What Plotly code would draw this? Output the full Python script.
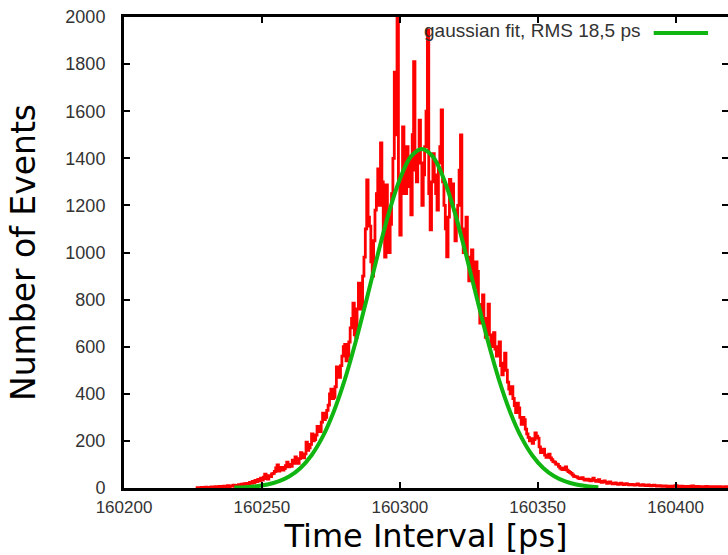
import plotly.graph_objects as go

# Histogram data: 0.5 ps bins starting at 160226 ps (each row = 5 ps)
bin_start = 160226
bin_width = 0.5
counts = [
    0, 1, 2, 0, 3, 1, 2, 4, 1, 3,
    2, 5, 3, 2, 6, 4, 3, 7, 5, 4,
    8, 5, 7, 10, 6, 9, 8, 12, 7, 11,
    9, 14, 11, 16, 12, 18, 15, 20, 17, 24,
    20, 28, 22, 32, 27, 36, 30, 42, 34, 46,
    59, 40, 38, 52, 48, 60, 62, 70, 85, 98,
    72, 80, 88, 76, 82, 95, 110, 90, 100, 92,
    118, 105, 132, 120, 105, 125, 150, 135, 128, 145,
    195, 160, 170, 185, 230, 200, 205, 225, 262, 240,
    240, 280, 318, 290, 300, 330, 352, 400, 420, 380,
    385, 430, 514, 470, 470, 520, 560, 600, 610, 540,
    560, 620, 680, 720, 785, 650, 640, 760, 870, 800,
    760, 900, 980, 1100, 1308, 1150, 1112, 960, 900, 1050,
    1180, 1250, 1355, 1200, 1465, 1300, 1060, 980, 1287, 1150,
    1000, 1120, 1250, 1400, 1766, 1500, 2040, 1300, 1074, 1250,
    1533, 1380, 1250, 1450, 1400, 1280, 1160, 1500, 1810, 1350,
    1300, 1420, 1562, 1380, 1200, 1330, 1450, 1600, 1945, 1250,
    1096, 1300, 1420, 1330, 1250, 1180, 1380, 1450, 1605, 1300,
    1200, 1100, 981, 1150, 1310, 1200, 1291, 1180, 1050, 1130,
    1200, 1350, 1499, 1100, 1000, 1080, 1150, 980, 880, 950,
    1011, 900, 850, 960, 920, 780, 700, 760, 820, 700,
    640, 720, 781, 650, 600, 630, 660, 590, 560, 600,
    620, 520, 480, 530, 573, 500, 450, 420, 400, 430,
    380, 350, 320, 360, 340, 300, 270, 300, 290, 250,
    230, 215, 200, 210, 190, 205, 234, 220, 212, 175,
    150, 160, 165, 140, 130, 138, 144, 128, 120, 112,
    110, 102, 100, 92, 85, 80, 78, 84, 90, 76,
    70, 66, 62, 56, 50, 48, 47, 43, 40, 42,
    44, 38, 34, 36, 38, 33, 30, 35, 42, 32,
    28, 31, 35, 27, 24, 28, 30, 25, 20, 23,
    26, 21, 18, 20, 22, 18, 16, 19, 21, 17,
    14, 16, 18, 15, 13, 14, 15, 13, 12, 14,
    17, 13, 11, 12, 14, 11, 10, 12, 13, 10,
    9, 11, 12, 10, 8, 9, 10, 8, 7, 9,
    9, 7, 6, 8, 8, 6, 7, 9, 10, 7,
    6, 8, 8, 6, 5, 7, 7, 5, 6, 8,
    9, 6, 5, 7, 7, 5, 6, 5, 4, 6,
    7, 5, 5, 6, 6, 4, 5, 6, 4, 5,
    6, 4, 5, 5, 6, 4, 4, 5,
]
times = [bin_start + bin_width * i for i in range(len(counts))]

# Gaussian fit curve, read every 4 ps
fit_times = [160240 + 4 * i for i in range(34)]
fit_values = [
    1.7, 3.6, 7.5, 14.7, 27.7, 49.7, 85, 139, 217, 323,
    458, 621, 803, 991, 1167, 1311, 1407, 1440, 1407, 1311,
    1167, 991, 803, 621, 458, 323, 217, 139, 85, 49.7,
    27.7, 14.7, 7.5, 3.6,
]

legend_label = "gaussian fit, RMS 18,5 ps"
x_ticks = [160200, 160250, 160300, 160350, 160400]
y_ticks = list(range(0, 2001, 200))

fig = go.Figure()
fig.add_trace(go.Scatter(
    x=times, y=counts, mode="lines", line=dict(color="#ff0000", width=2.8, shape="hv"),
    showlegend=False, hoverinfo="skip",
))
fig.add_trace(go.Scatter(
    x=fit_times, y=fit_values, mode="lines", line=dict(color="#11b511", width=4, shape="spline"),
    name=legend_label, showlegend=False,
))
# dummy trace so that the right-hand tick-only axis is drawn
fig.add_trace(go.Scatter(x=[], y=[], yaxis="y2", showlegend=False, hoverinfo="skip"))

tickfont = dict(family="Liberation Sans, Arial, sans-serif", size=18, color="#333333")
xtickfont = dict(family="Liberation Sans, Arial, sans-serif", size=17, color="#333333")

fig.update_layout(
    width=728, height=555,
    margin=dict(l=124, r=0, t=17, b=67),
    plot_bgcolor="white", paper_bgcolor="white",
    xaxis=dict(
        range=[160200, 160419], tickvals=x_ticks, ticktext=[str(v) for v in x_ticks],
        showgrid=False, zeroline=False, showline=True, linecolor="black", linewidth=3,
        mirror="ticks", ticks="inside", ticklen=6, tickwidth=2, tickcolor="black",
        tickfont=xtickfont, ticklabelstandoff=2,
        title=dict(text="Time Interval [ps]",
                   font=dict(family="DejaVu Sans, sans-serif", size=32, color="#000000"),
                   standoff=7),
    ),
    yaxis=dict(
        range=[0, 2000], tickvals=y_ticks,
        showgrid=False, zeroline=False, showline=True, linecolor="black", linewidth=3,
        ticks="inside", ticklen=6, tickwidth=2, tickcolor="black",
        tickfont=tickfont, ticklabelstandoff=12,
        title=dict(text="Number of Events",
                   font=dict(family="DejaVu Sans, sans-serif", size=33, color="#000000"),
                   standoff=20),
    ),
    yaxis2=dict(
        overlaying="y", side="right", matches="y", range=[0, 2000], tickvals=y_ticks,
        showgrid=False, zeroline=False, showline=False, showticklabels=False,
        ticks="inside", ticklen=6, tickwidth=2, tickcolor="black",
    ),
)

# legend drawn gnuplot-style: text on the left, line sample on the right
fig.add_annotation(
    x=0.86, y=0.971, xref="paper", yref="paper", xanchor="right", yanchor="middle",
    text=legend_label, showarrow=False,
    font=dict(family="Liberation Sans, Arial, sans-serif", size=19, color="#333333"),
)
fig.add_shape(
    type="line", xref="paper", yref="paper", x0=0.877, x1=0.967, y0=0.966, y1=0.966,
    line=dict(color="#11b511", width=4),
)

fig.write_html("out.html")
